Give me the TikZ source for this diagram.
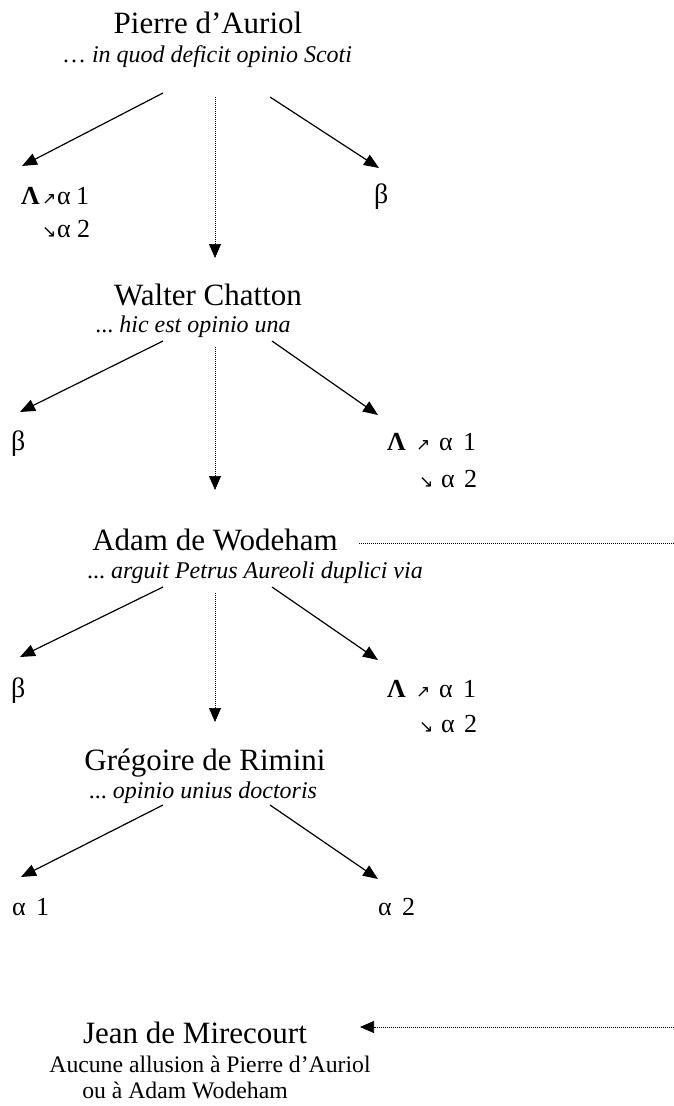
\documentclass[tikz,border=0pt]{standalone}
\usepackage{fontspec}
\setmainfont{Liberation Serif}
\newfontfamily\arrfont{DejaVu Sans}
\usetikzlibrary{arrows.meta}
\tikzset{
  persona/.style={font=\fontsize{31}{31}\selectfont, inner sep=0pt, anchor=base},
  subtext/.style={font=\fontsize{24}{24}\selectfont\itshape, inner sep=0pt, anchor=base},
  plaintext/.style={font=\fontsize{23.7}{23.7}\selectfont, inner sep=0pt, anchor=base},
  greektext/.style={font=\fontsize{26}{26}\selectfont, inner sep=0pt, anchor=base west},
  betatext/.style={font=\fontsize{28}{28}\selectfont, inner sep=0pt, anchor=base west},
  link/.style={line width=1.2pt, -{Triangle[length=15pt,width=12pt]}},
  dotlink/.style={line width=0.7pt, dash pattern=on 1pt off 1pt, -{Triangle[length=14pt,width=12pt]}},
  dotline/.style={line width=0.7pt, dash pattern=on 1pt off 1pt},
}
\newcommand{\ua}{{\arrfont\fontsize{17}{17}\selectfont ↗}}
\newcommand{\da}{{\arrfont\fontsize{17}{17}\selectfont ↘}}
\newcommand{\lamline}[4]{\makebox[#1pt][l]{\textbf{Λ}}\makebox[#2pt][l]{\ua}\makebox[#3pt][l]{α}#4}
\newcommand{\alline}[3]{\makebox[#1pt][l]{\da}\makebox[#2pt][l]{α}#3}
\begin{document}
\begin{tikzpicture}[x=1pt,y=-1pt]
\useasboundingbox (0,0) rectangle (674,1106);
% Pierre d'Auriol
\node[persona] (pa) at (208,33) {Pierre d’Auriol};
\node[subtext] (pas) at (207,62) {\upshape…\ \itshape in quod deficit opinio Scoti};
\node[greektext] (paL) at (21,204) {\lamline{21}{15}{19}{1}};
\node[greektext] (paL2) at (42,237) {\alline{15}{20}{2}};
\node[betatext] (paB) at (374,203) {β};
\coordinate (pa1) at (163,93); \coordinate (pa1e) at (22,166);
\coordinate (pa2) at (270,97); \coordinate (pa2e) at (379,168);
\coordinate (pa3) at (215,97); \coordinate (pa3e) at (215,258);
\draw[link] (pa1) -- (pa1e);
\draw[link] (pa2) -- (pa2e);
\draw[dotlink] (pa3) -- (pa3e);
% Walter Chatton
\node[persona] (wc) at (208,305) {Walter Chatton};
\node[subtext] (wcs) at (193,332) {\upshape...\ \itshape hic est opinio una};
\node[betatext] (wcB) at (11,450) {β};
\node[greektext] (wcL) at (387,450) {\lamline{29}{23}{24}{1}};
\node[greektext] (wcL2) at (419,487) {\alline{22}{23}{2}};
\coordinate (wc1) at (163,341); \coordinate (wc1e) at (20,412);
\coordinate (wc2) at (272,341); \coordinate (wc2e) at (378,415);
\coordinate (wc3) at (215,347); \coordinate (wc3e) at (215,490);
\draw[link] (wc1) -- (wc1e);
\draw[link] (wc2) -- (wc2e);
\draw[dotlink] (wc3) -- (wc3e);
% Adam de Wodeham
\node[persona] (aw) at (215,550) {Adam de Wodeham};
\node[subtext] (aws) at (255,578) {\upshape...\ \itshape arguit Petrus Aureoli duplici via};
\node[betatext] (awB) at (11,697) {β};
\node[greektext] (awL) at (387,697) {\lamline{29}{23}{24}{1}};
\node[greektext] (awL2) at (419,732) {\alline{22}{23}{2}};
\coordinate (aw1) at (163,587); \coordinate (aw1e) at (20,657);
\coordinate (aw2) at (272,587); \coordinate (aw2e) at (378,660);
\coordinate (aw3) at (215,593); \coordinate (aw3e) at (215,722);
\coordinate (awr) at (359,543); \coordinate (awre) at (674,543);
\draw[link] (aw1) -- (aw1e);
\draw[link] (aw2) -- (aw2e);
\draw[dotlink] (aw3) -- (aw3e);
\draw[dotline] (awr) -- (awre);
% Gregoire de Rimini
\node[persona] (gr) at (205,770) {Grégoire de Rimini};
\node[subtext] (grs) at (203,798) {\upshape...\ \itshape opinio unius doctoris};
\node[greektext] (grA1) at (12,915) {\makebox[24pt][l]{α}1};
\node[greektext] (grA2) at (378,915) {\makebox[24pt][l]{α}2};
\coordinate (gr1) at (163,805); \coordinate (gr1e) at (21,877);
\coordinate (gr2) at (270,805); \coordinate (gr2e) at (378,879);
\draw[link] (gr1) -- (gr1e);
\draw[link] (gr2) -- (gr2e);
% Jean de Mirecourt
\node[persona] (jm) at (195,1043) {Jean de Mirecourt};
\node[plaintext] (jm2) at (210,1072) {Aucune allusion à Pierre d’Auriol};
\node[plaintext] (jm3) at (185,1098) {ou à Adam Wodeham};
\coordinate (jmr) at (674,1027); \coordinate (jmre) at (360,1027);
\draw[dotlink] (jmr) -- (jmre);
\end{tikzpicture}
\end{document}
